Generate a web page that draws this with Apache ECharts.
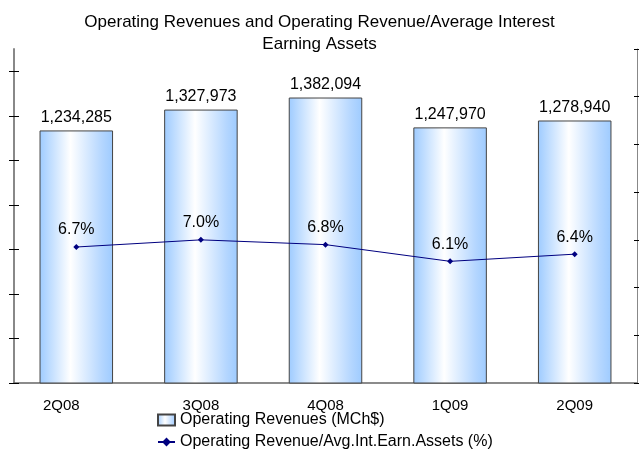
<!DOCTYPE html>
<html>
<head>
<meta charset="utf-8">
<script src="https://cdn.jsdelivr.net/npm/echarts@6/dist/echarts.min.js"></script>
<style>
  html, body { margin: 0; padding: 0; background: #fff; }
  #chart { width: 639px; height: 450px; }
</style>
</head>
<body>
<div id="chart"></div>
<script>
"use strict";
var quarters = ['2Q08', '3Q08', '4Q08', '1Q09', '2Q09'];
var revenues = [1234285, 1327973, 1382094, 1247970, 1278940];
var ratio = [6.7, 7.0, 6.8, 6.1, 6.4];
var leftTicks = [100000, 300000, 500000, 700000, 900000, 1100000, 1300000, 1500000];
var rightTicks = [1, 3, 5, 7, 9, 11, 13, 15];

var font = 'Liberation Sans, Arial, sans-serif';

var barFill = new echarts.graphic.LinearGradient(0, 0, 1, 0, [
  { offset: 0, color: '#9ecbff' },
  { offset: 0.42, color: '#ffffff' },
  { offset: 0.85, color: '#b4d6ff' },
  { offset: 1, color: '#9ecbff' }
]);

echarts.init(document.getElementById('chart'))
.setOption({
  backgroundColor: '#fff',
  animation: false,
  textStyle: { fontFamily: font, color: '#000' },
  title: {
    text: 'Operating Revenues and Operating Revenue/Average Interest\nEarning Assets',
    left: 'center',
    top: 6,
    textStyle: { fontFamily: font, fontSize: 17, fontWeight: 'normal', color: '#000', lineHeight: 22 }
  },
  legend: {
    orient: 'vertical',
    left: 157,
    top: 412,
    height: 60,
    padding: 0,
    itemWidth: 17,
    itemHeight: 11,
    itemGap: 6,
    textStyle: { fontFamily: font, fontSize: 16, color: '#000' },
    data: [
      { name: 'Operating Revenues (MCh$)', icon: 'rect' },
      { name: 'Operating Revenue/Avg.Int.Earn.Assets (%)' }
    ]
  },
  grid: { left: 14, right: 2, top: 49, bottom: 67 },
  xAxis: [
    {
      type: 'category',
      data: quarters,
      axisLine: { lineStyle: { color: '#666', width: 1.5 } },
      axisTick: { length: 5, lineStyle: { color: '#000' } },
      axisLabel: {
        fontFamily: font,
        fontSize: 15,
        color: '#000',
        margin: 15,
        formatter: function (v, i) { return i === 0 ? '{first|' + v + '}' : v; },
        rich: { first: { fontFamily: font, fontSize: 15, color: '#000', padding: [0, 30, 0, 0] } }
      }
    },
    {
      type: 'category',
      data: quarters,
      position: 'bottom',
      axisLine: { show: false },
      axisTick: { inside: true, length: 4, lineStyle: { color: '#000' } },
      axisLabel: { show: false }
    }
  ],
  yAxis: [
    {
      type: 'value',
      min: 100000,
      max: 1600000,
      position: 'left',
      axisLine: { show: true, lineStyle: { color: '#888', width: 2 } },
      axisTick: { show: true, length: 5, customValues: leftTicks, lineStyle: { color: '#000' } },
      axisLabel: { show: false },
      splitLine: { show: false }
    },
    {
      type: 'value',
      min: 1,
      max: 15,
      position: 'right',
      axisLine: { show: true, lineStyle: { color: '#888', width: 1 } },
      axisTick: { show: true, length: 3, customValues: rightTicks, lineStyle: { color: '#000' } },
      axisLabel: { show: false },
      splitLine: { show: false }
    },
    {
      type: 'value',
      min: 100000,
      max: 1600000,
      position: 'left',
      axisLine: { show: false },
      axisTick: { show: true, inside: true, length: 5, customValues: leftTicks, lineStyle: { color: '#000' } },
      axisLabel: { show: false },
      splitLine: { show: false }
    },
    {
      type: 'value',
      min: 1,
      max: 15,
      position: 'right',
      axisLine: { show: false },
      axisTick: { show: true, inside: true, length: 3, customValues: rightTicks, lineStyle: { color: '#000' } },
      axisLabel: { show: false },
      splitLine: { show: false }
    }
  ],
  series: [
    {
      name: 'Operating Revenues (MCh$)',
      type: 'bar',
      yAxisIndex: 0,
      barCategoryGap: '41%',
      data: revenues,
      itemStyle: { color: barFill, borderColor: '#444', borderWidth: 1 },
      label: {
        show: true,
        position: 'top',
        distance: 5,
        fontFamily: font,
        fontSize: 16,
        color: '#000',
        formatter: function (p) { return p.value.toLocaleString('en-US'); }
      }
    },
    {
      name: 'Operating Revenue/Avg.Int.Earn.Assets (%)',
      type: 'line',
      yAxisIndex: 1,
      data: ratio,
      symbol: 'diamond',
      symbolSize: 6,
      lineStyle: { color: '#000080', width: 1 },
      itemStyle: { color: '#000080' },
      label: {
        show: true,
        position: 'top',
        distance: 6,
        fontFamily: font,
        fontSize: 16,
        color: '#000',
        formatter: function (p) { return p.value.toFixed(1) + '%'; }
      }
    }
  ]
});
</script>
</body>
</html>
